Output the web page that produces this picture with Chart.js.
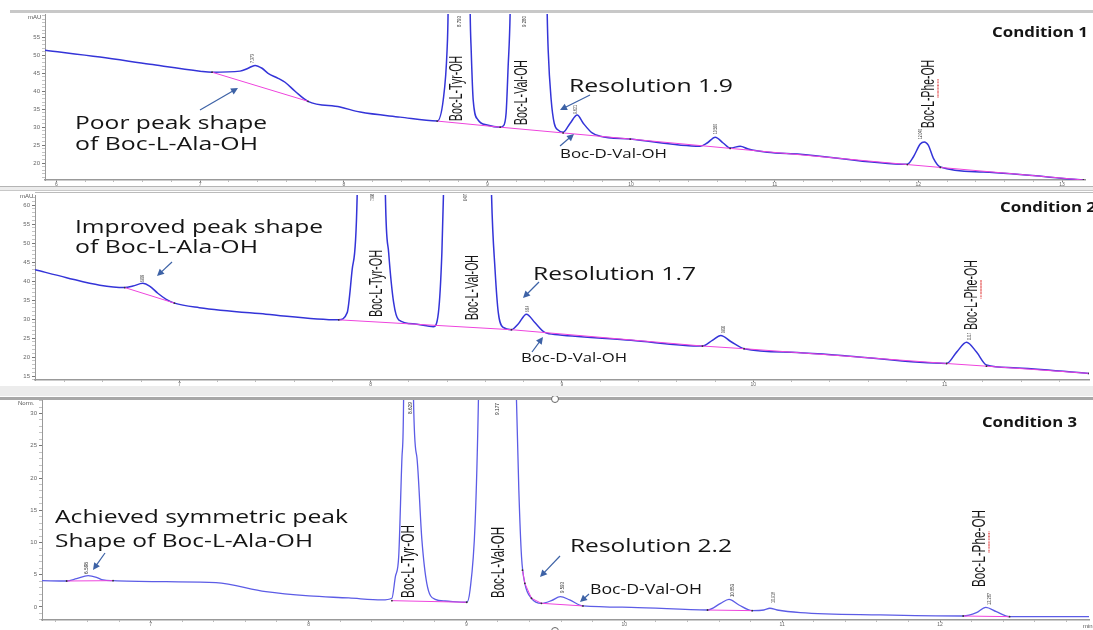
<!DOCTYPE html>
<html>
<head>
<meta charset="utf-8">
<script src="https://cdn.jsdelivr.net/npm/chart.js@4.4.1/dist/chart.umd.min.js"></script>
<style>
  body { margin:0; background:#fff; width:1093px; height:630px; overflow:hidden; position:relative; }
  .panel { position:absolute; left:0; width:1093px; }
  .band { position:absolute; left:0; width:1093px; background:#ececec; box-sizing:border-box; }
</style>
</head>
<body>
<div class="panel" style="top:0;height:186px"><canvas id="c1"></canvas></div>
<div class="band" style="top:186px;height:5px;border-top:1px solid #b4b4b4;border-bottom:1px solid #c8c8c8"></div>
<div class="panel" style="top:191px;height:195px"><canvas id="c2"></canvas></div>
<div class="band" style="top:386px;height:10px"></div>
<div class="panel" style="top:396px;height:234px"><canvas id="c3"></canvas></div>
<script>
// ---- Condition 1 (retention time, min / signal, mAU)
const c1Time = [5.920, 6.303, 6.651, 6.999, 7.083, 7.278, 7.334, 7.382, 7.431, 7.473, 7.543, 7.591, 7.661, 7.751, 7.974, 8.114, 8.392,
  8.650, 8.692, 8.719, 8.726, 8.803, 8.880, 8.887, 8.901, 8.935, 8.998, 9.089, 9.109, 9.130, 9.144, 9.158, 9.283, 9.416, 9.423, 9.444,
  9.465, 9.492, 9.527, 9.576, 9.625, 9.667, 9.729, 9.785, 9.994, 10.481, 10.530, 10.586, 10.641, 10.690, 10.760, 10.816, 10.948, 11.178,
  11.923, 11.965, 12.013, 12.041, 12.069, 12.104, 12.153, 12.452, 13.149];
const c1Signal = [51.4, 49.5, 47.5, 45.6, 45.3, 45.6, 46.4, 47.2, 46.4, 45.0, 43.6, 42.5, 40.0, 37.2, 35.6, 34.2, 32.8,
  31.7, 37.5, 51.4, 61.7, 400, 61.7, 51.4, 37.5, 32.0, 30.6, 30.0, 30.3, 33.9, 46.7, 61.7, 420, 61.7, 51.4, 37.5,
  31.1, 29.2, 28.6, 31.1, 33.4, 31.1, 28.4, 27.5, 26.7, 24.7, 25.6, 27.2, 25.6, 24.2, 24.7, 23.9, 23.0, 22.5,
  19.7, 21.7, 25.3, 25.9, 25.0, 21.4, 18.9, 17.5, 15.3];
const c1BaseTime = [7.083, 7.751, 8.2, 8.650, 9.089, 9.527, 9.994, 10.690, 11.923, 12.153, 13.149];
const c1BaseSignal = [45.3, 37.2, null, 31.7, 30.0, 28.4, 26.7, 24.1, 19.6, 18.8, 15.3];
const c1XTicks = [6, 7, 8, 9, 10, 11, 12, 13];
const c1YTicks = [20, 25, 30, 35, 40, 45, 50, 55];

// ---- Condition 2
const c2Time = [6.245, 6.410, 6.584, 6.714, 6.757, 6.809, 6.844, 6.887, 6.931, 6.974, 7.104, 7.452, 7.833, 7.877, 7.903, 7.929, 8.000,
  8.077, 8.094, 8.120, 8.146, 8.233, 8.328, 8.354, 8.372, 8.380, 8.500, 8.632, 8.650, 8.667, 8.693, 8.736, 8.771, 8.814, 8.858, 8.910,
  8.979, 9.361, 9.734, 9.786, 9.830, 9.882, 9.952, 10.229, 10.490, 11.011, 11.063, 11.115, 11.167, 11.219, 11.358, 11.755];
const c2Signal = [43.0, 40.9, 38.9, 38.3, 38.7, 39.4, 38.7, 36.8, 35.2, 34.2, 33.0, 31.3, 29.8, 31.7, 43.0, 62.1, 400,
  62.1, 47.4, 34.3, 29.8, 28.7, 28.0, 31.7, 47.4, 62.1, 420, 62.1, 43.0, 31.7, 27.8, 27.2, 28.7, 31.3, 29.1, 26.5,
  25.9, 24.4, 22.9, 24.4, 25.7, 24.1, 22.2, 21.2, 20.3, 18.3, 21.3, 23.9, 21.3, 17.9, 17.2, 15.7];
const c2BaseTime = [6.714, 6.974, 7.4, 7.833, 8.736, 9.734, 9.952, 11.011, 11.219, 11.755];
const c2BaseSignal = [38.3, 34.2, null, 29.8, 27.2, 22.9, 22.2, 18.3, 17.6, 15.7];
const c2XTicks = [7, 8, 9, 10, 11];
const c2YTicks = [15, 20, 25, 30, 35, 40, 45, 50, 55, 60];

// ---- Condition 3 (normalised)
const c3Time = [6.310, 6.468, 6.531, 6.604, 6.657, 6.699, 6.762, 7.099, 7.414, 7.730, 8.003, 8.255, 8.465, 8.528, 8.550, 8.571, 8.592,
  8.602, 8.629, 8.665, 8.686, 8.718, 8.749, 8.802, 8.865, 9.002, 9.023, 9.055, 9.076, 9.177, 9.317, 9.332, 9.349, 9.370, 9.412, 9.475,
  9.538, 9.595, 9.654, 9.738, 10.043, 10.527, 10.610, 10.663, 10.726, 10.810, 10.884, 10.922, 10.968, 11.115, 11.620, 12.146, 12.230,
  12.289, 12.356, 12.440, 12.943];
const c3Signal = [4.08, 4.03, 4.39, 4.85, 4.60, 4.19, 4.08, 3.92, 3.77, 2.37, 1.71, 1.40, 1.09, 1.35, 4.70, 7.80, 23.3,
  32.1, 200, 32.1, 23.3, 10.4, 3.67, 1.19, 0.93, 0.73, 2.64, 12.98, 32.1, 200, 32.1, 18.1, 7.80, 3.67, 1.35, 0.57,
  0.98, 1.60, 1.09, 0.16, -0.05, -0.47, 0.57, 1.19, 0.31, -0.57, -0.47, -0.20, -0.47, -0.88, -1.24, -1.40, -0.88,
  -0.05, -0.73, -1.50, -1.50];
const c3BaseTime = [6.468, 6.762, 7.5, 8.528, 9.002, 9.2, 9.355, 9.370, 9.412, 9.475, 9.738, 10.2, 10.527, 10.810, 11.5, 12.146, 12.440];
const c3BaseSignal = [4.03, 4.08, null, 0.98, 0.73, null, 5.7, 3.67, 1.35, 0.57, 0.16, null, -0.47, -0.57, null, -1.40, -1.50];
const c3XTicks = [7, 8, 9, 10, 11, 12];
const c3YTicks = [0, 5, 10, 15, 20, 25, 30];

const PINK = '#ee44dd';
const ARROW = '#3d62a6';
const BIG = "'Open Sans', sans-serif";
const NARROW = "'Liberation Sans Narrow', 'Liberation Sans', sans-serif";

function pts(t, v) {
  return t.map((x, i) => ({ x: x, y: v[i] }));
}

function withMinor(major, min, max, step) {
  const out = [];
  for (let k = Math.ceil(min / step + 1e-6); k <= Math.floor(max / step - 1e-6); k++) {
    out.push({ value: +(k * step).toFixed(4) });
  }
  return out;
}

function isMajor(v, major) {
  return major.some(m => Math.abs(m - v) < 1e-6);
}

function fitText(ctx, txt, x, y, w, font, color, vertical, underline) {
  ctx.save();
  ctx.font = font;
  ctx.fillStyle = color;
  ctx.textBaseline = 'middle';
  ctx.textAlign = 'left';
  ctx.translate(x, y);
  if (vertical) ctx.rotate(-Math.PI / 2);
  const m = ctx.measureText(txt).width;
  ctx.scale(w / m, 1);
  ctx.fillText(txt, 0, 0);
  if (underline) {
    const pre = ctx.measureText('Boc-L-').width;
    const pw = ctx.measureText('Phe').width;
    ctx.strokeStyle = '#e03030';
    ctx.lineWidth = 1.3;
    ctx.setLineDash([1.5, 1]);
    ctx.beginPath();
    ctx.moveTo(pre, 9);
    ctx.lineTo(pre + pw, 9);
    ctx.stroke();
  }
  ctx.restore();
}

function arrow(ctx, x1, y1, x2, y2) {
  const a = Math.atan2(y2 - y1, x2 - x1);
  ctx.save();
  ctx.strokeStyle = ARROW;
  ctx.fillStyle = ARROW;
  ctx.lineWidth = 1.2;
  ctx.beginPath();
  ctx.moveTo(x1, y1);
  ctx.lineTo(x2 - 5 * Math.cos(a), y2 - 5 * Math.sin(a));
  ctx.stroke();
  ctx.beginPath();
  ctx.moveTo(x2, y2);
  ctx.lineTo(x2 - 7 * Math.cos(a) + 3.5 * Math.sin(a), y2 - 7 * Math.sin(a) - 3.5 * Math.cos(a));
  ctx.lineTo(x2 - 7 * Math.cos(a) - 3.5 * Math.sin(a), y2 - 7 * Math.sin(a) + 3.5 * Math.cos(a));
  ctx.closePath();
  ctx.fill();
  ctx.restore();
}

// draws the frame lines, texts and arrows; positions are page pixels, shifted by the panel top
const notesPlugin = {
  id: 'notes',
  afterDraw(chart, args, o) {
    const ctx = chart.ctx;
    ctx.save();
    ctx.translate(0, -o.top);
    o.items.forEach(it => {
      if (it.k === 'rect') {
        ctx.fillStyle = it.c;
        ctx.fillRect(it.x, it.y, it.w, it.h);
      } else if (it.k === 'circle') {
        ctx.beginPath();
        ctx.arc(it.x, it.y, 3.5, 0, Math.PI * 2);
        ctx.fillStyle = '#fff';
        ctx.fill();
        ctx.strokeStyle = '#666';
        ctx.lineWidth = 1;
        ctx.stroke();
      } else if (it.k === 'text') {
        fitText(ctx, it.s, it.x, it.y, it.w, (it.b ? 'bold ' : '') + (it.f || 18) + 'px ' + BIG, '#151515', false);
      } else if (it.k === 'vtext') {
        fitText(ctx, it.s, it.x, it.y, it.w, (it.f || 18) + 'px ' + NARROW, '#151515', true, it.ul);
      } else if (it.k === 'tag') {
        fitText(ctx, it.s, it.x, it.y, it.w, '6px ' + NARROW, '#333', true);
      } else if (it.k === 'small') {
        ctx.font = '6px Arial, sans-serif';
        ctx.fillStyle = '#555';
        ctx.textBaseline = 'middle';
        ctx.fillText(it.s, it.x, it.y);
      } else if (it.k === 'arrow') {
        arrow(ctx, it.x1, it.y1, it.x2, it.y2);
      }
    });
    ctx.restore();
  }
};

function makeChart(id, p) {
  return new Chart(document.getElementById(id), {
    type: 'line',
    data: {
      datasets: [
        { data: pts(p.baseT, p.baseV), borderColor: PINK, borderWidth: 1, pointRadius: 0.9,
          pointBorderWidth: 0, pointBackgroundColor: '#333', spanGaps: false, order: 0 },
        { data: pts(p.t, p.v), borderColor: p.color, borderWidth: p.lw, pointRadius: 0,
          cubicInterpolationMode: 'monotone', order: 1 }
      ]
    },
    options: {
      animation: false,
      responsive: true,
      maintainAspectRatio: false,
      devicePixelRatio: 1,
      layout: { padding: { top: p.padTop, right: p.padRight, left: 0, bottom: 0 } },
      plugins: {
        legend: { display: false },
        tooltip: { enabled: false },
        notes: { top: p.top, items: p.items }
      },
      scales: {
        x: {
          type: 'linear', min: p.xMin, max: p.xMax, offset: false,
          afterBuildTicks: s => { s.ticks = withMinor(p.xTicks, p.xMin, p.xMax, 0.2); },
          afterFit: s => { s.height = p.xH; s.paddingLeft = 0; s.paddingRight = 0; },
          ticks: { autoSkip: false, maxRotation: 0, padding: 0, color: '#666',
                   font: { size: 5, family: 'Arial' },
                   callback: v => isMajor(v, p.xTicks) ? String(v) : '' },
          grid: { drawOnChartArea: false, tickLength: 2,
                  tickColor: c => isMajor(c.tick.value, p.xTicks) ? '#777' : '#bbb' },
          border: { color: '#999', width: 1.5 }
        },
        y: {
          min: p.yMin, max: p.yMax,
          afterBuildTicks: s => { s.ticks = withMinor(p.yTicks, p.yMin, p.yMax, 1); },
          afterFit: s => { s.width = p.yW; s.paddingTop = 0; s.paddingBottom = 0; },
          ticks: { autoSkip: false, padding: 2, color: '#666',
                   font: { size: 6, family: 'Arial' },
                   callback: v => isMajor(v, p.yTicks) ? String(v) : '' },
          grid: { drawOnChartArea: false, tickLength: 3,
                  tickColor: c => isMajor(c.tick.value, p.yTicks) ? '#777' : '#c4c4c4' },
          border: { color: '#999', width: 1 }
        }
      }
    },
    plugins: [notesPlugin]
  });
}

makeChart('c1', {
  top: 0, padTop: 14, padRight: 8, yW: 45, xH: 6, lw: 1.5,
  xMin: 5.92, xMax: 13.16, yMin: 15.3, yMax: 61.5,
  t: c1Time, v: c1Signal, baseT: c1BaseTime, baseV: c1BaseSignal,
  xTicks: c1XTicks, yTicks: c1YTicks, color: '#3434d8',
  items: [
    { k: 'rect', x: 10, y: 10, w: 1083, h: 3, c: '#c8c8c8' },
    { k: 'small', s: 'mAU', x: 28, y: 17 },
    { k: 'text', s: 'Poor peak shape', x: 75, y: 124, w: 192 },
    { k: 'text', s: 'of Boc-L-Ala-OH', x: 75, y: 145, w: 183 },
    { k: 'arrow', x1: 200, y1: 110, x2: 238, y2: 88 },
    { k: 'vtext', s: 'Boc-L-Tyr-OH', x: 457, y: 121, w: 65 },
    { k: 'vtext', s: 'Boc-L-Val-OH', x: 522, y: 125, w: 65 },
    { k: 'text', s: 'Resolution 1.9', x: 569, y: 87, w: 164 },
    { k: 'arrow', x1: 590, y1: 95, x2: 560, y2: 110 },
    { k: 'text', s: 'Boc-D-Val-OH', x: 560, y: 154, w: 107, f: 13 },
    { k: 'arrow', x1: 560, y1: 146, x2: 574, y2: 134 },
    { k: 'vtext', s: 'Boc-L-Phe-OH', x: 929, y: 128, w: 68, ul: true },
    { k: 'text', s: 'Condition 1', x: 992, y: 33, w: 96, f: 14, b: true },
    { k: 'tag', s: '7.373', x: 252, y: 63, w: 9 },
    { k: 'tag', s: '8.793', x: 459, y: 27, w: 11 },
    { k: 'tag', s: '9.280', x: 524, y: 27, w: 11 },
    { k: 'tag', s: '9.621', x: 575, y: 114, w: 9 },
    { k: 'tag', s: '10.580', x: 715, y: 134, w: 10 },
    { k: 'tag', s: '12.040', x: 920, y: 139, w: 10 }
  ]
});

makeChart('c2', {
  top: 191, padTop: 2, padRight: 0, yW: 35, xH: 6, lw: 1.5,
  xMin: 6.245, xMax: 11.755, yMin: 13.96, yMax: 62.66,
  t: c2Time, v: c2Signal, baseT: c2BaseTime, baseV: c2BaseSignal,
  xTicks: c2XTicks, yTicks: c2YTicks, color: '#3434d8',
  items: [
    { k: 'rect', x: 35, y: 192, w: 1058, h: 1, c: '#bbbbbb' },
    { k: 'small', s: 'mAU', x: 20, y: 196 },
    { k: 'text', s: 'Improved peak shape', x: 75, y: 228, w: 248 },
    { k: 'text', s: 'of Boc-L-Ala-OH', x: 75, y: 248, w: 183 },
    { k: 'arrow', x1: 172, y1: 262, x2: 157, y2: 276 },
    { k: 'vtext', s: 'Boc-L-Tyr-OH', x: 377, y: 317, w: 67 },
    { k: 'vtext', s: 'Boc-L-Val-OH', x: 473, y: 320, w: 65 },
    { k: 'text', s: 'Resolution 1.7', x: 533, y: 275, w: 163 },
    { k: 'arrow', x1: 539, y1: 282, x2: 523, y2: 298 },
    { k: 'text', s: 'Boc-D-Val-OH', x: 521, y: 358, w: 106, f: 13 },
    { k: 'arrow', x1: 532, y1: 352, x2: 543, y2: 337 },
    { k: 'vtext', s: 'Boc-L-Phe-OH', x: 972, y: 330, w: 70, ul: true },
    { k: 'text', s: 'Condition 2', x: 1000, y: 208, w: 96, f: 14, b: true },
    { k: 'tag', s: '6.809', x: 142, y: 282, w: 7 },
    { k: 'tag', s: '7.998', x: 372, y: 201, w: 7 },
    { k: 'tag', s: '8.497', x: 465, y: 201, w: 7 },
    { k: 'tag', s: '8.814', x: 527, y: 312, w: 6 },
    { k: 'tag', s: '9.830', x: 723, y: 333, w: 7 },
    { k: 'tag', s: '11.117', x: 969, y: 340, w: 7 }
  ]
});

makeChart('c3', {
  top: 396, padTop: 4, padRight: 0, yW: 42, xH: 10, lw: 1.3,
  xMin: 6.312, xMax: 12.943, yMin: -2.02, yMax: 32.1,
  t: c3Time, v: c3Signal, baseT: c3BaseTime, baseV: c3BaseSignal,
  xTicks: c3XTicks, yTicks: c3YTicks, color: '#5c5ce6',
  items: [
    { k: 'rect', x: 0, y: 397, w: 1093, h: 3, c: '#a8a8a8' },
    { k: 'circle', x: 555, y: 399 },
    { k: 'circle', x: 555, y: 631 },
    { k: 'small', s: 'Norm.', x: 18, y: 403 },
    { k: 'small', s: 'min', x: 1083, y: 626 },
    { k: 'text', s: 'Achieved symmetric peak', x: 55, y: 518, w: 293, f: 19 },
    { k: 'text', s: 'Shape of Boc-L-Ala-OH', x: 55, y: 542, w: 258, f: 19 },
    { k: 'arrow', x1: 105, y1: 553, x2: 93, y2: 570 },
    { k: 'vtext', s: 'Boc-L-Tyr-OH', x: 409, y: 598, w: 73, f: 19 },
    { k: 'vtext', s: 'Boc-L-Val-OH', x: 499, y: 598, w: 71, f: 19 },
    { k: 'text', s: 'Resolution 2.2', x: 570, y: 547, w: 162, f: 19 },
    { k: 'arrow', x1: 560, y1: 556, x2: 540, y2: 577 },
    { k: 'text', s: 'Boc-D-Val-OH', x: 590, y: 590, w: 112, f: 14 },
    { k: 'arrow', x1: 589, y1: 594, x2: 580, y2: 602 },
    { k: 'vtext', s: 'Boc-L-Phe-OH', x: 980, y: 587, w: 77, f: 19, ul: true },
    { k: 'text', s: 'Condition 3', x: 982, y: 423, w: 95, f: 14, b: true },
    { k: 'tag', s: '6.598', x: 86, y: 574, w: 12 },
    { k: 'tag', s: '8.629', x: 410, y: 414, w: 12 },
    { k: 'tag', s: '9.177', x: 497, y: 415, w: 12 },
    { k: 'tag', s: '9.593', x: 562, y: 593, w: 11 },
    { k: 'tag', s: '10.653', x: 732, y: 597, w: 13 },
    { k: 'tag', s: '10.918', x: 773, y: 603, w: 11 },
    { k: 'tag', s: '12.287', x: 989, y: 605, w: 12 }
  ]
});
</script>
</body>
</html>
